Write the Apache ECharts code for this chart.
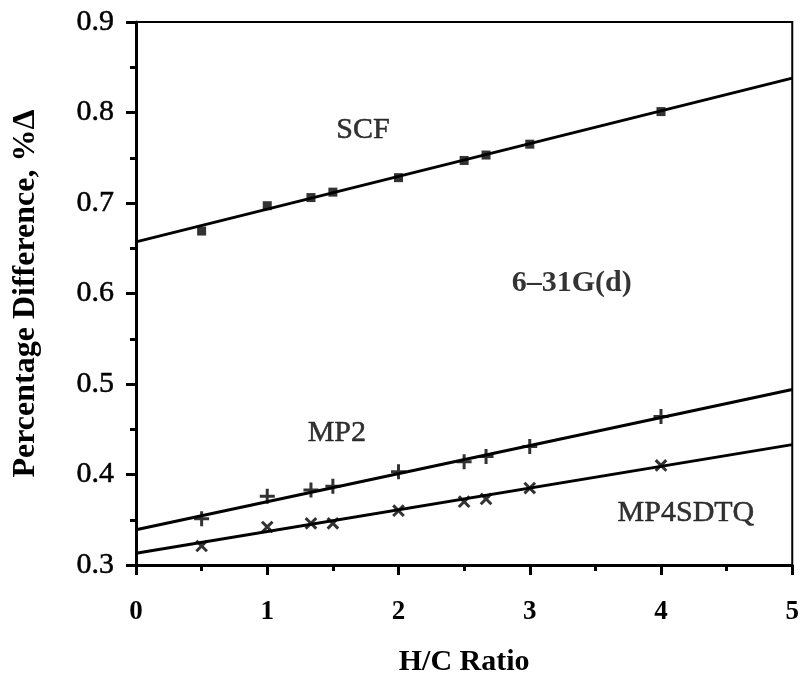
<!DOCTYPE html>
<html>
<head>
<meta charset="utf-8">
<script src="https://cdn.jsdelivr.net/npm/echarts@6/dist/echarts.min.js"></script>
<style>
  html, body { margin: 0; padding: 0; background: #fff; }
  #chart { width: 802px; height: 682px; }
</style>
</head>
<body>
<div id="chart"></div>
<script>
// H/C ratios of the measured compounds
let hcRatio = [0.5, 1, 1.333, 1.5, 2, 2.5, 2.667, 3, 4];

let scfVals = [0.669, 0.697, 0.706, 0.712, 0.728, 0.747, 0.753, 0.765, 0.801];
let mp2Vals = [0.351, 0.376, 0.383, 0.387, 0.403, 0.414, 0.420, 0.431, 0.464];
let mp4Vals = [0.321, 0.342, 0.346, 0.346, 0.360, 0.370, 0.373, 0.385, 0.410];

// fitted straight lines, read at the two ends of the axis
let fitX = [0, 5];
let scfFit = [0.657, 0.838];
let mp2Fit = [0.339, 0.494];
let mp4Fit = [0.313, 0.433];

// text labels inside the plot (data coords)
let notes = [
    {text: 'SCF', x: 1.73, y: 0.780, bold: false},
    {text: '6–31G(d)', x: 3.32, y: 0.611, bold: true},
    {text: 'MP2', x: 1.53, y: 0.446, bold: false},
    {text: 'MP4SDTQ', x: 4.19, y: 0.357, bold: false}
];

let xTicks = [0, 1, 2, 3, 4, 5];
let yTicks = [0.3, 0.4, 0.5, 0.6, 0.7, 0.8, 0.9];

const serif = 'Liberation Serif';
const plusPath = 'path://M4,0H6V4H10V6H6V10H4V6H0V4H4Z';

function pairs(xs, ys) {
    return xs.map((x, i) => [x, ys[i]]);
}

function fitLine(ys) {
    return {
        type: 'line',
        data: pairs(fitX, ys),
        symbol: 'none',
        silent: true,
        lineStyle: {color: '#000', width: 3},
        z: 2
    };
}

let myChart = echarts.init(document.getElementById('chart'));

let option = {
    backgroundColor: '#fff',
    animation: false,
    grid: {
        left: 136,
        right: 8,
        top: 22,
        bottom: 116,
        show: true,
        borderColor: '#000',
        borderWidth: 2,
        backgroundColor: 'transparent'
    },
    xAxis: {
        type: 'value',
        min: 0,
        max: 5,
        interval: 1,
        name: 'H/C Ratio',
        nameLocation: 'middle',
        nameGap: 82,
        nameTextStyle: {fontFamily: serif, fontSize: 30, fontWeight: 'bold', color: '#000'},
        axisLine: {lineStyle: {color: '#000', width: 3}},
        axisTick: {inside: false, length: 10, lineStyle: {color: '#000', width: 3}},
        minorTick: {show: true, splitNumber: 2, length: 6, lineStyle: {color: '#000', width: 3}},
        splitLine: {show: false},
        axisLabel: {
            margin: 34,
            fontFamily: serif,
            fontSize: 27,
            fontWeight: 'bold',
            color: '#000',
            formatter: v => xTicks.includes(v) ? String(v) : ''
        }
    },
    yAxis: {
        type: 'value',
        min: 0.3,
        max: 0.9,
        interval: 0.1,
        name: 'Percentage Difference, %Δ',
        nameLocation: 'middle',
        nameGap: 94,
        nameTextStyle: {fontFamily: serif, fontSize: 32, fontWeight: 'bold', color: '#000'},
        axisLine: {lineStyle: {color: '#000', width: 3}},
        axisTick: {inside: false, length: 10, lineStyle: {color: '#000', width: 3}},
        minorTick: {show: true, splitNumber: 2, length: 6, lineStyle: {color: '#000', width: 3}},
        splitLine: {show: false},
        axisLabel: {
            margin: 22,
            fontFamily: serif,
            fontSize: 30,
            color: '#000',
            textBorderColor: '#000',
            textBorderWidth: 0.5,
            formatter: v => {
                let t = yTicks.find(k => Math.abs(k - v) < 1e-6);
                return t === undefined ? '' : t.toFixed(1);
            }
        }
    },
    series: [
        fitLine(scfFit),
        fitLine(mp2Fit),
        fitLine(mp4Fit),
        {
            type: 'scatter',
            data: pairs(hcRatio, scfVals),
            symbol: 'rect',
            symbolSize: [9, 9],
            itemStyle: {color: '#000'},
            z: 3
        },
        {
            type: 'scatter',
            data: pairs(hcRatio, mp2Vals),
            symbol: plusPath,
            symbolSize: 15,
            itemStyle: {color: '#000'},
            z: 3
        },
        {
            type: 'scatter',
            data: pairs(hcRatio, mp4Vals),
            symbol: plusPath,
            symbolRotate: 45,
            symbolSize: 15,
            itemStyle: {color: '#000'},
            z: 3
        },
        {
            type: 'scatter',
            data: notes.map(n => ({
                value: [n.x, n.y],
                label: {
                    show: true,
                    position: 'inside',
                    formatter: n.text,
                    fontFamily: serif,
                    fontSize: 30,
                    fontWeight: n.bold ? 'bold' : 'normal',
                    color: '#000',
                    textBorderColor: '#000',
                    textBorderWidth: n.bold ? 0 : 0.5
                }
            })),
            symbolSize: 1,
            itemStyle: {color: 'transparent'},
            silent: true,
            z: 4
        }
    ]
};

myChart.setOption(option);
</script>
</body>
</html>
